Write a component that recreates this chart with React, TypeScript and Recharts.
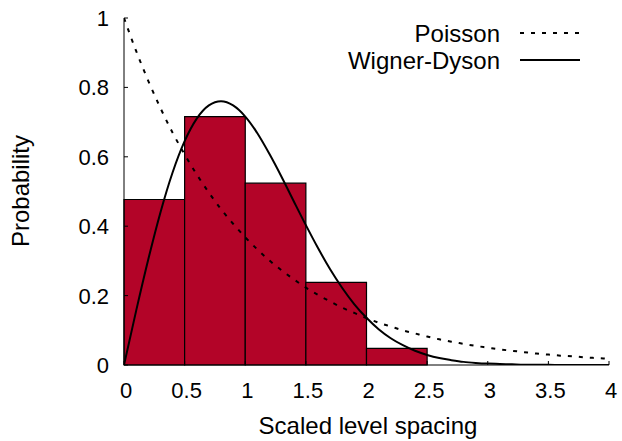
import React from 'react';
import { ComposedChart, Line, XAxis, YAxis, ReferenceArea, Customized } from 'recharts';

const spacing = [0, 0.1, 0.2, 0.3, 0.4, 0.5, 0.6, 0.7, 0.8, 0.9, 1.0, 1.1, 1.2, 1.3, 1.4, 1.5, 1.6, 1.7, 1.8, 1.9, 2.0, 2.1, 2.2, 2.3, 2.4, 2.5, 2.6, 2.7, 2.8, 2.9, 3.0, 3.1, 3.2, 3.3, 3.4, 3.5, 3.6, 3.7, 3.8, 3.9, 4.0];
const poisson = [1, 0.905, 0.819, 0.741, 0.670, 0.607, 0.549, 0.497, 0.449, 0.407, 0.368, 0.333, 0.301, 0.273, 0.247, 0.223, 0.202, 0.183, 0.165, 0.150, 0.135, 0.122, 0.111, 0.100, 0.091, 0.082, 0.074, 0.067, 0.061, 0.055, 0.050, 0.045, 0.041, 0.037, 0.033, 0.030, 0.027, 0.025, 0.022, 0.020, 0.018];
const wigner = [0, 0.156, 0.304, 0.439, 0.554, 0.645, 0.710, 0.748, 0.760, 0.748, 0.716, 0.668, 0.608, 0.542, 0.472, 0.403, 0.337, 0.276, 0.222, 0.175, 0.136, 0.103, 0.077, 0.057, 0.041, 0.029, 0.020, 0.014, 0.009, 0.006, 0.004, 0.003, 0.002, 0.001, 0.001, 0.0004, 0.0002, 0.0001, 0.0001, 0, 0];

const binStart = [0, 0.5, 1.0, 1.5, 2.0];
const binEnd = [0.5, 1.0, 1.5, 2.0, 2.5];
const binHeight = [0.477, 0.716, 0.524, 0.238, 0.048];

const xTicks = [0, 0.5, 1, 1.5, 2, 2.5, 3, 3.5, 4];
const yTicks = [0, 0.2, 0.4, 0.6, 0.8, 1];

const data = spacing.map((s, i) => ({ s, poisson: poisson[i], wigner: wigner[i] }));

const FONT = '"Liberation Sans", Arial, Helvetica, sans-serif';
const BAR = '#b30428';
const TICK_FS = 22;
const LABEL_FS = 24;

const BottomTick = (props: any) => {
  const { x, y, payload } = props;
  return (
    <g>
      <line x1={x} x2={x} y1={y} y2={y - 4} stroke="#000" strokeWidth={1} />
      <text x={x + 2} y={y + 33} textAnchor="middle" fontSize={TICK_FS} fontFamily={FONT} fill="#000">
        {String(payload.value)}
      </text>
    </g>
  );
};

const TopTick = (props: any) => {
  const { x, y } = props;
  return <line x1={x} x2={x} y1={y} y2={y + 4} stroke="#000" strokeWidth={1} />;
};

const LeftTick = (props: any) => {
  const { x, y, payload } = props;
  return (
    <g>
      <line x1={x} x2={x + 4} y1={y} y2={y} stroke="#000" strokeWidth={1} />
      <text x={x - 15} y={y} dy="0.36em" textAnchor="end" fontSize={TICK_FS} fontFamily={FONT} fill="#000">
        {String(payload.value)}
      </text>
    </g>
  );
};

const RightTick = (props: any) => {
  const { x, y } = props;
  return <line x1={x} x2={x - 4} y1={y} y2={y} stroke="#000" strokeWidth={1} />;
};

const Overlay = () => (
  <g fontFamily={FONT} fill="#000">
    <text x={500} y={33} dy="0.36em" textAnchor="end" fontSize={LABEL_FS}>Poisson</text>
    <line x1={520} x2={580} y1={33} y2={33} stroke="#000" strokeWidth={2} strokeDasharray="4 7" />
    <text x={500} y={60} dy="0.36em" textAnchor="end" fontSize={LABEL_FS}>Wigner-Dyson</text>
    <line x1={520} x2={580} y1={60} y2={60} stroke="#000" strokeWidth={2} />
    <text x={368} y={434} textAnchor="middle" fontSize={LABEL_FS}>Scaled level spacing</text>
    <text x={29} y={191} textAnchor="middle" fontSize={LABEL_FS} transform="rotate(-90 29 191)">Probability</text>
  </g>
);

export default function App() {
  return (
    <div style={{ position: 'absolute', left: 0, top: 0, background: '#fff' }}>
      <ComposedChart width={622} height={441} data={data} margin={{ top: 18, right: 13, bottom: 0, left: 0 }}>
        <XAxis
          dataKey="s"
          type="number"
          domain={[0, 4]}
          ticks={xTicks}
          height={76}
          tickSize={0}
          tickMargin={0}
          tick={<BottomTick />}
          axisLine={{ stroke: '#000', strokeWidth: 1 }}
          tickLine={false}
          allowDataOverflow
        />
        <XAxis
          xAxisId="top"
          orientation="top"
          type="number"
          domain={[0, 4]}
          ticks={xTicks}
          height={0}
          tickSize={0}
          tickMargin={0}
          tick={<TopTick />}
          axisLine={{ stroke: '#000', strokeWidth: 1 }}
          tickLine={false}
          allowDataOverflow
        />
        <YAxis
          type="number"
          domain={[0, 1]}
          ticks={yTicks}
          width={124}
          tickSize={0}
          tickMargin={0}
          tick={<LeftTick />}
          axisLine={{ stroke: '#000', strokeWidth: 1 }}
          tickLine={false}
          allowDataOverflow
        />
        <YAxis
          yAxisId="right"
          orientation="right"
          type="number"
          domain={[0, 1]}
          ticks={yTicks}
          width={0}
          tickSize={0}
          tickMargin={0}
          tick={<RightTick />}
          axisLine={{ stroke: '#000', strokeWidth: 1 }}
          tickLine={false}
          allowDataOverflow
        />
        {binStart.map((b, i) => (
          <ReferenceArea
            key={i}
            x1={b}
            x2={binEnd[i]}
            y1={0}
            y2={binHeight[i]}
            fill={BAR}
            fillOpacity={1}
            stroke="#000"
            strokeWidth={1.2}
            strokeOpacity={1}
          />
        ))}
        <Line type="monotone" dataKey="poisson" stroke="#000" strokeWidth={2} strokeDasharray="4 7" dot={false} isAnimationActive={false} />
        <Line type="monotone" dataKey="wigner" stroke="#000" strokeWidth={2} dot={false} isAnimationActive={false} />
        <Customized component={Overlay} />
      </ComposedChart>
    </div>
  );
}
